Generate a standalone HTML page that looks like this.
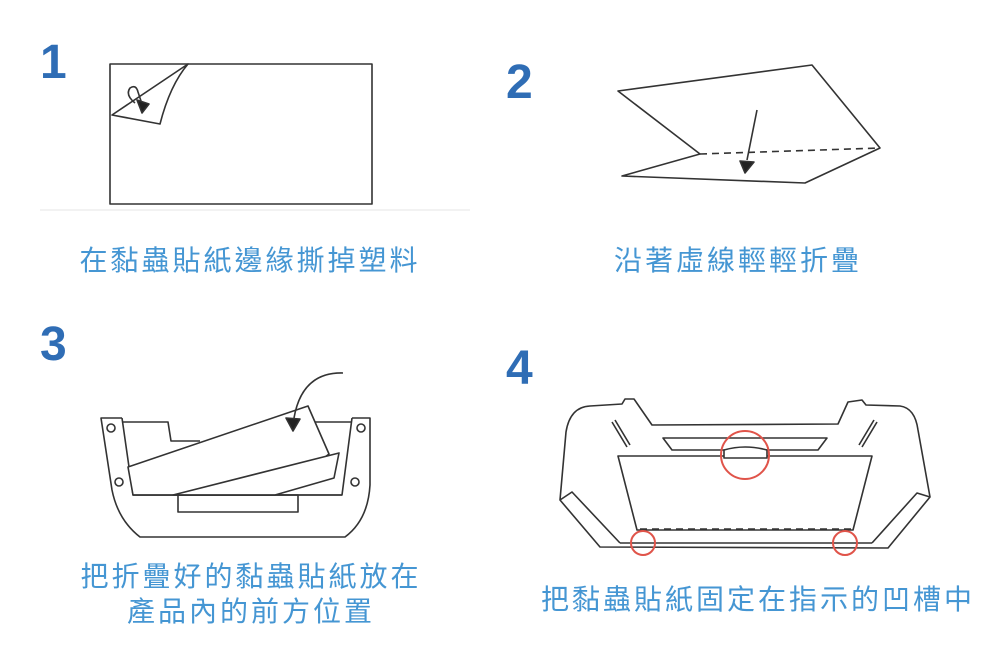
<!DOCTYPE html>
<html><head><meta charset="utf-8"><style>
html,body{margin:0;padding:0;background:#fff;}
body{width:1000px;height:668px;position:relative;overflow:hidden;font-family:"Liberation Sans","Noto Sans CJK TC",sans-serif;}
.n{position:absolute;color:#2f6db5;font-weight:bold;font-size:48px;line-height:48px;}
.c{position:absolute;color:#4596d3;font-size:28px;line-height:32px;letter-spacing:3px;white-space:nowrap;text-align:center;transform:translateX(-50%);}
svg{position:absolute;left:0;top:0;}
</style></head><body>
<svg width="1000" height="668" viewBox="0 0 1000 668" fill="none" stroke="#333" stroke-width="1.6" stroke-linejoin="round">
<!-- step1 -->
<line x1="40" y1="210" x2="470" y2="210" stroke="#eee"/>
<rect x="110" y="64" width="262" height="140" fill="#fff"/>
<path d="M112 115 L188 64 Q170 85 160 124 Z" fill="#fff"/>
<path d="M135 103 Q125 95 130 88 Q136 84 138 92 L142 104"/>
<path d="M137 100 L149 104 L142 113 Z" fill="#222"/>
<!-- step2 -->
<path d="M618 91 L812 65 L880 148 L805 183 L622 176 L700 154 Z" fill="#fff"/>
<line x1="700" y1="154" x2="880" y2="148" stroke-dasharray="7 5"/>
<line x1="757" y1="110" x2="747" y2="160"/>
<path d="M740 161 L754 162 L745 173 Z" fill="#222"/>
<!-- step3 -->
<path d="M122 418 L101 418 L112 490 Q118 520 140 537 L345 537 Q368 520 370 485 L370 418 L352 418"/>
<path d="M122 418 L133 495 L342 495 L352 418"/>
<path d="M122 422 L168 422 L171 441 L200 441"/>
<path d="M315 422 L352 422"/>
<rect x="178" y="495" width="120" height="17"/>
<circle cx="111" cy="428" r="4"/><circle cx="119" cy="482" r="4"/>
<circle cx="361" cy="428" r="4"/><circle cx="355" cy="482" r="4"/>
<path d="M128 467 L308 406 L329 454 L275 495 L133 495 Z" fill="#fff"/>
<path d="M173 495 L339 453 L334 478 L275 495 Z" fill="#fff"/>
<line x1="133" y1="495" x2="342" y2="495"/>
<path d="M343 373 Q302 372 294 418"/>
<path d="M286 418 L300 419 L293 431 Z" fill="#222"/>
<!-- step4 -->
<path d="M600 547 L560 500 L566 432 Q570 407 590 406 L622 404 L625 399 L634 399 L652 425 L838 424 L848 402 L862 400 L866 405 L900 406 Q915 408 918 430 L930 497 L888 548 Z"/>
<path d="M560 500 L572 492 L620 543 M930 497 L917 493 L872 543"/>
<path d="M618 456 L872 456 L853 530 L637 530 Z"/>
<line x1="640" y1="529" x2="852" y2="529" stroke-dasharray="7 5"/>
<line x1="620" y1="543" x2="872" y2="543"/>
<path d="M663 438 L827 438 L818 450 L672 450 Z"/>
<path d="M724 458 L724 450 Q745 444 767 450 L767 458 Z" fill="#fff"/>
<path d="M612 422 L627 447 M615 420 L630 445"/>
<path d="M877 422 L862 447 M874 420 L859 445"/>
<g stroke="#e0544a" stroke-width="2">
<circle cx="745" cy="455" r="24"/><circle cx="643" cy="543" r="12"/><circle cx="845" cy="543" r="12"/>
</g>
</svg>
<div class="n" style="left:40px;top:39px;">1</div>
<div class="n" style="left:506px;top:59px;">2</div>
<div class="n" style="left:40px;top:321px;">3</div>
<div class="n" style="left:506px;top:345px;">4</div>
<div class="c" style="left:250px;top:245px;">在黏蟲貼紙邊緣撕掉塑料</div>
<div class="c" style="left:738px;top:245px;">沿著虛線輕輕折疊</div>
<div class="c" style="left:251px;top:561px;">把折疊好的黏蟲貼紙放在</div>
<div class="c" style="left:251px;top:596px;">產品內的前方位置</div>
<div class="c" style="left:758px;top:584px;">把黏蟲貼紙固定在指示的凹槽中</div>
</body></html>
